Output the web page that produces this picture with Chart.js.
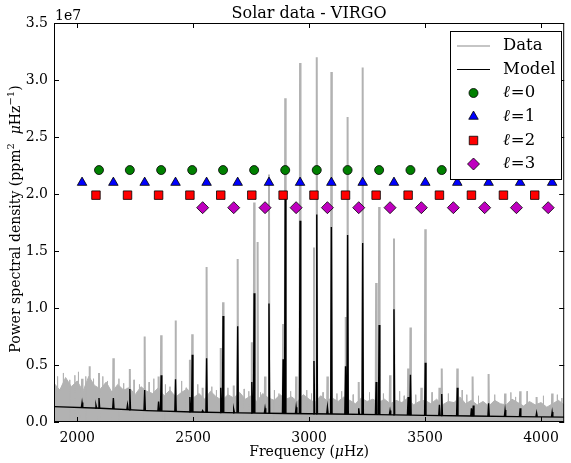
<!DOCTYPE html>
<html>
<head>
<meta charset="utf-8">
<script src="https://cdn.jsdelivr.net/npm/chart.js@4.4.0/dist/chart.umd.min.js"></script>
<style>
  html, body { margin: 0; padding: 0; background: #fff; }
</style>
</head>
<body>
<canvas id="spectrum" width="571" height="463"></canvas>
<script>
// power is in units of 1e7 ppm^2/uHz throughout

// mode frequencies (uHz) for each degree l
const freqL0 = [2094, 2227, 2362, 2496, 2629, 2763, 2897, 3033, 3166, 3302, 3437, 3572, 3708, 3845, 3981];
const freqL1 = [2021, 2156, 2291, 2424, 2558, 2692, 2827, 2961, 3096, 3231, 3366, 3501, 3639, 3774, 3910, 4048];
const freqL2 = [2081, 2217, 2351, 2486, 2619, 2753, 2888, 3021, 3157, 3289, 3427, 3562, 3700, 3838, 3973];
const freqL3 = [2541, 2675, 2810, 2944, 3079, 3214, 3349, 3484, 3622, 3757, 3894, 4031];
// the row each degree's markers are drawn on
const markerLevel = [2.21, 2.10, 1.99, 1.88];

// observed spectrum: top of the noise band
const noiseFreq = [1900, 1925, 1950, 1975, 2000, 2025, 2050, 2075, 2100,
  2125, 2150, 2175, 2200, 2225, 2250, 2275, 2300,
  2325, 2350, 2375, 2400, 2425, 2450, 2475, 2500,
  2525, 2550, 2575, 2600, 2625, 2650, 2675, 2700,
  2725, 2750, 2775, 2800, 2825, 2850, 2875, 2900,
  2925, 2950, 2975, 3000, 3025, 3050, 3075, 3100,
  3125, 3150, 3175, 3200, 3225, 3250, 3275, 3300,
  3325, 3350, 3375, 3400, 3425, 3450, 3475, 3500,
  3525, 3550, 3575, 3600, 3625, 3650, 3675, 3700,
  3725, 3750, 3775, 3800, 3825, 3850, 3875, 3900,
  3925, 3950, 3975, 4000, 4025, 4050, 4075, 4100];
const noisePower = [0.34, 0.28, 0.39, 0.31, 0.36, 0.27, 0.40, 0.32, 0.29,
  0.35, 0.26, 0.33, 0.28, 0.30, 0.24, 0.31, 0.27,
  0.25, 0.30, 0.23, 0.28, 0.22, 0.26, 0.29, 0.21,
  0.25, 0.20, 0.27, 0.22, 0.19, 0.24, 0.21, 0.26,
  0.20, 0.23, 0.18, 0.25, 0.21, 0.19, 0.24, 0.20,
  0.22, 0.18, 0.24, 0.20, 0.17, 0.23, 0.19, 0.21,
  0.18, 0.22, 0.19, 0.16, 0.21, 0.18, 0.20, 0.17,
  0.20, 0.16, 0.19, 0.17, 0.21, 0.15, 0.18, 0.19,
  0.16, 0.20, 0.15, 0.18, 0.17, 0.22, 0.16, 0.19,
  0.15, 0.18, 0.14, 0.19, 0.16, 0.15, 0.20, 0.17,
  0.14, 0.18, 0.15, 0.17, 0.13, 0.16, 0.19, 0.15];

// isolated noise bins poking above the band
const spikeFreq = [1915, 1940, 1968, 1990, 2005, 2037, 2070, 2110, 2130, 2180,
  2200, 2245, 2268, 2310, 2330, 2380, 2400, 2450, 2470, 2520,
  2580, 2600, 2650, 2720, 2740, 2790, 2850, 2870, 2920, 2990,
  3010, 3060, 3120, 3140, 3190, 3260, 3320, 3390, 3410, 3460,
  3530, 3600, 3660, 3680, 3730, 3800, 3870, 3890, 3940, 4010,
  4070, 4090];
const spikePower = [0.40, 0.43, 0.37, 0.41, 0.44, 0.40, 0.38, 0.40, 0.36, 0.38,
  0.34, 0.37, 0.33, 0.35, 0.38, 0.33, 0.31, 0.36, 0.30, 0.33,
  0.31, 0.28, 0.30, 0.29, 0.27, 0.26, 0.28, 0.25, 0.27, 0.28,
  0.25, 0.26, 0.25, 0.27, 0.24, 0.26, 0.25, 0.27, 0.23, 0.24,
  0.26, 0.25, 0.28, 0.24, 0.23, 0.24, 0.26, 0.22, 0.27, 0.23,
  0.24, 0.21];

// observed spectrum: tallest bins at the modes
const dataFreq = [2021, 2053, 2081, 2094, 2156, 2217, 2227, 2291, 2351, 2362,
  2424, 2486, 2496, 2541, 2558, 2619, 2629, 2675, 2692, 2753,
  2763, 2778, 2810, 2827, 2888, 2897, 2944, 2961, 3021, 3033,
  3079, 3096, 3157, 3166, 3214, 3231, 3289, 3302, 3349, 3366,
  3427, 3437, 3484, 3501, 3562, 3572, 3639, 3705, 3774, 3845,
  3910, 3981, 4048];
const dataPower = [0.38, 0.49, 0.30, 0.43, 0.56, 0.30, 0.465, 0.75, 0.40, 0.76,
  0.89, 0.545, 0.77, 0.30, 1.36, 0.65, 1.05, 0.32, 1.43, 0.70,
  1.925, 1.58, 0.40, 2.17, 0.86, 2.84, 0.40, 3.15, 1.53, 3.20,
  0.40, 3.07, 0.92, 2.675, 0.35, 3.11, 1.22, 1.885, 0.41, 1.61,
  0.47, 0.83, 0.30, 1.69, 0.30, 0.47, 0.47, 0.40, 0.42, 0.25,
  0.27, 0.22, 0.25];

// fitted model: background level and peak heights
const baseFreq = [1900, 2100, 2300, 2500, 2700, 2900, 3100, 3300, 3500, 3700, 3900, 4100];
const basePower = [0.135, 0.12, 0.10, 0.088, 0.080, 0.075, 0.070, 0.065, 0.058, 0.052, 0.047, 0.043];
const modelFreq = [2021, 2081, 2094, 2156, 2217, 2227, 2291, 2351, 2362, 2424,
  2486, 2496, 2541, 2558, 2619, 2629, 2675, 2692, 2753, 2763,
  2810, 2827, 2888, 2897, 2944, 2961, 3021, 3033, 3079, 3096,
  3157, 3166, 3214, 3231, 3289, 3302, 3349, 3366, 3427, 3437,
  3501, 3562, 3572, 3639, 3700, 3708, 3774, 3845, 3910, 3981, 4048];
const modelPower = [0.17, 0.147, 0.21, 0.21, 0.15, 0.29, 0.28, 0.18, 0.41, 0.375,
  0.22, 0.59, 0.10, 0.56, 0.30, 0.93, 0.11, 0.84, 0.35, 1.13,
  0.12, 1.04, 0.55, 1.96, 0.13, 1.765, 0.535, 1.82, 0.13, 1.71,
  0.49, 1.64, 0.12, 1.57, 0.35, 0.85, 0.10, 0.99, 0.22, 0.415,
  0.52, 0.15, 0.245, 0.30, 0.12, 0.145, 0.165, 0.105, 0.12, 0.08, 0.088];

const xTicks = [2000, 2500, 3000, 3500, 4000];
const yTicks = [0, 0.5, 1.0, 1.5, 2.0, 2.5, 3.0, 3.5];

const GREY = '#b2b2b2';
const SERIF = '"DejaVu Serif", serif';
Chart.defaults.font.family = SERIF;
Chart.defaults.color = '#000';

function baseAt(f) {
  for (let i = 1; i < baseFreq.length; i++) {
    if (f <= baseFreq[i]) {
      const t = (f - baseFreq[i - 1]) / (baseFreq[i] - baseFreq[i - 1]);
      return basePower[i - 1] + t * (basePower[i] - basePower[i - 1]);
    }
  }
  return basePower[basePower.length - 1];
}

// narrow spikes standing on a foot level, separated by gaps
function spikes(freqs, heights, foot, half) {
  const pts = [];
  freqs.forEach((f, i) => {
    pts.push({x: f - half, y: foot(f)}, {x: f, y: heights[i]}, {x: f + half, y: foot(f)}, {x: f + half, y: null});
  });
  return pts;
}

const markers = [
  {label: 'ℓ=0', freqs: freqL0, style: 'circle', color: '#008000', r: 4.5},
  {label: 'ℓ=1', freqs: freqL1, style: 'triangle', color: '#0000ff', r: 5.5},
  {label: 'ℓ=2', freqs: freqL2, style: 'rect', color: '#ff0000', r: 6},
  {label: 'ℓ=3', freqs: freqL3, style: 'rectRot', color: '#bf00bf', r: 6}
];

const markerSets = markers.map((m, i) => ({
  label: m.label,
  data: m.freqs.map(f => ({x: f, y: markerLevel[i]})),
  showLine: false,
  pointStyle: m.style,
  pointRadius: m.r,
  pointBackgroundColor: m.color,
  pointBorderColor: '#000',
  pointBorderWidth: 0.8,
  order: i
}));

function drawRich(ctx, parts, x, y) {
  let w = 0;
  parts.forEach(p => { ctx.font = p[1]; w += ctx.measureText(p[0]).width; });
  let cx = x - w / 2;
  parts.forEach(p => {
    ctx.font = p[1];
    ctx.fillText(p[0], cx, y - (p[2] || 0));
    cx += ctx.measureText(p[0]).width;
  });
}

const decorations = {
  id: 'decorations',
  afterDatasetsDraw(chart) {
    const {ctx, chartArea: a, scales: {x, y}} = chart;
    ctx.save();
    ctx.strokeStyle = '#000';
    ctx.lineWidth = 1;
    ctx.beginPath();
    x.ticks.forEach(t => {
      const px = Math.round(x.getPixelForValue(t.value)) + 0.5;
      ctx.moveTo(px, a.bottom); ctx.lineTo(px, a.bottom - 5);
      ctx.moveTo(px, a.top); ctx.lineTo(px, a.top + 5);
    });
    y.ticks.forEach(t => {
      const py = Math.round(y.getPixelForValue(t.value)) + 0.5;
      ctx.moveTo(a.left, py); ctx.lineTo(a.left + 5, py);
      ctx.moveTo(a.right, py); ctx.lineTo(a.right - 5, py);
    });
    ctx.stroke();
    ctx.strokeRect(a.left + 0.5, a.top + 0.5, a.right - a.left - 1, a.bottom - a.top - 1);
    ctx.restore();
  },
  afterDraw(chart) {
    const {ctx, chartArea: a} = chart;
    const mid = (a.left + a.right) / 2;
    const L = '14px ' + SERIF, IT = 'italic 14px ' + SERIF, SUP = '10px ' + SERIF;
    ctx.save();
    ctx.fillStyle = '#000';
    ctx.textBaseline = 'alphabetic';
    ctx.textAlign = 'left';

    ctx.font = '16px ' + SERIF;
    const title = 'Solar data - VIRGO';
    ctx.fillText(title, mid - ctx.measureText(title).width / 2, 18);

    ctx.font = L;
    ctx.fillText('1e7', a.left + 1, 20);

    drawRich(ctx, [['Frequency (', L], ['μ', IT], ['Hz)', L]], mid, 456);

    ctx.translate(20, 219);
    ctx.rotate(-Math.PI / 2);
    drawRich(ctx, [['Power spectral density (ppm', L], ['2', SUP, 6], ['  ', L], ['μ', IT],
      ['Hz', L], ['−1', SUP, 6], [')', L]], 0, 0);
    ctx.setTransform(1, 0, 0, 1, 0, 0);

    // legend box
    const bx = 450.5, by = 31.5, bw = 111, bh = 148;
    ctx.fillStyle = '#fff';
    ctx.fillRect(bx, by, bw, bh);
    ctx.strokeStyle = '#000';
    ctx.lineWidth = 1;
    ctx.strokeRect(bx, by, bw, bh);

    const rowY = [46, 69.5, 93, 116.5, 140.5, 164];
    const LG = '16.5px ' + SERIF, LGI = 'italic 16.5px ' + SERIF;
    ctx.lineWidth = 1.5;
    ctx.strokeStyle = GREY;
    ctx.beginPath(); ctx.moveTo(457, rowY[0]); ctx.lineTo(490, rowY[0]); ctx.stroke();
    ctx.lineWidth = 1.2;
    ctx.strokeStyle = '#000';
    ctx.beginPath(); ctx.moveTo(457, rowY[1]); ctx.lineTo(490, rowY[1]); ctx.stroke();
    ctx.fillStyle = '#000';
    ctx.font = LG;
    ctx.textBaseline = 'middle';
    ctx.fillText('Data', 503, rowY[0]);
    ctx.fillText('Model', 503, rowY[1]);
    markers.forEach((m, i) => {
      const ry = rowY[i + 2];
      ctx.fillStyle = m.color;
      ctx.strokeStyle = '#000';
      ctx.lineWidth = 0.8;
      Chart.helpers.drawPoint(ctx, {pointStyle: m.style, radius: m.r, borderWidth: 0.8}, 473.5, ry);
      ctx.fillStyle = '#000';
      ctx.font = LGI;
      ctx.fillText('ℓ', 503, ry);
      const w = ctx.measureText('ℓ').width;
      ctx.font = LG;
      ctx.fillText('=' + i, 503 + w + 1, ry);
    });
    ctx.restore();
  }
};

new Chart(document.getElementById('spectrum'), {
  type: 'line',
  data: {
    datasets: [
      ...markerSets,
      {
        label: 'Model peaks',
        data: spikes(modelFreq, modelPower, baseAt, 3),
        borderColor: '#000',
        borderWidth: 1.4,
        pointRadius: 0,
        spanGaps: false,
        order: 5
      },
      {
        label: 'Model',
        data: baseFreq.map((f, i) => ({x: f, y: basePower[i]})),
        borderColor: '#000',
        borderWidth: 1.4,
        pointRadius: 0,
        order: 6
      },
      {
        label: 'Data peaks',
        data: spikes(dataFreq, dataPower, () => 0, 2),
        borderColor: GREY,
        borderWidth: 2,
        pointRadius: 0,
        spanGaps: false,
        order: 7
      },
      {
        label: 'Noise spikes',
        data: spikes(spikeFreq, spikePower, () => 0, 1),
        borderColor: GREY,
        borderWidth: 1,
        pointRadius: 0,
        spanGaps: false,
        order: 8
      },
      {
        label: 'Data',
        data: noiseFreq.map((f, i) => ({x: f, y: noisePower[i]})),
        borderColor: GREY,
        backgroundColor: GREY,
        borderWidth: 1,
        pointRadius: 0,
        fill: 'origin',
        order: 9
      }
    ]
  },
  options: {
    responsive: false,
    animation: false,
    events: [],
    layout: {padding: {top: 23, right: 1, left: 0, bottom: 0}},
    plugins: {legend: {display: false}, tooltip: {enabled: false}},
    scales: {
      x: {
        type: 'linear',
        min: 1900,
        max: 4100,
        afterBuildTicks: s => { s.ticks = xTicks.map(v => ({value: v})); },
        ticks: {font: {size: 14}, padding: 8, maxRotation: 0, callback: v => String(v)},
        grid: {display: false, drawTicks: false},
        border: {display: false},
        afterFit: s => { s.height = 41; }
      },
      y: {
        min: 0,
        max: 3.5,
        afterBuildTicks: s => { s.ticks = yTicks.map(v => ({value: v})); },
        ticks: {font: {size: 14}, padding: 6, callback: v => v.toFixed(1)},
        grid: {display: false, drawTicks: false},
        border: {display: false},
        afterFit: s => { s.width = 54; }
      }
    }
  },
  plugins: [decorations]
});
</script>
</body>
</html>
